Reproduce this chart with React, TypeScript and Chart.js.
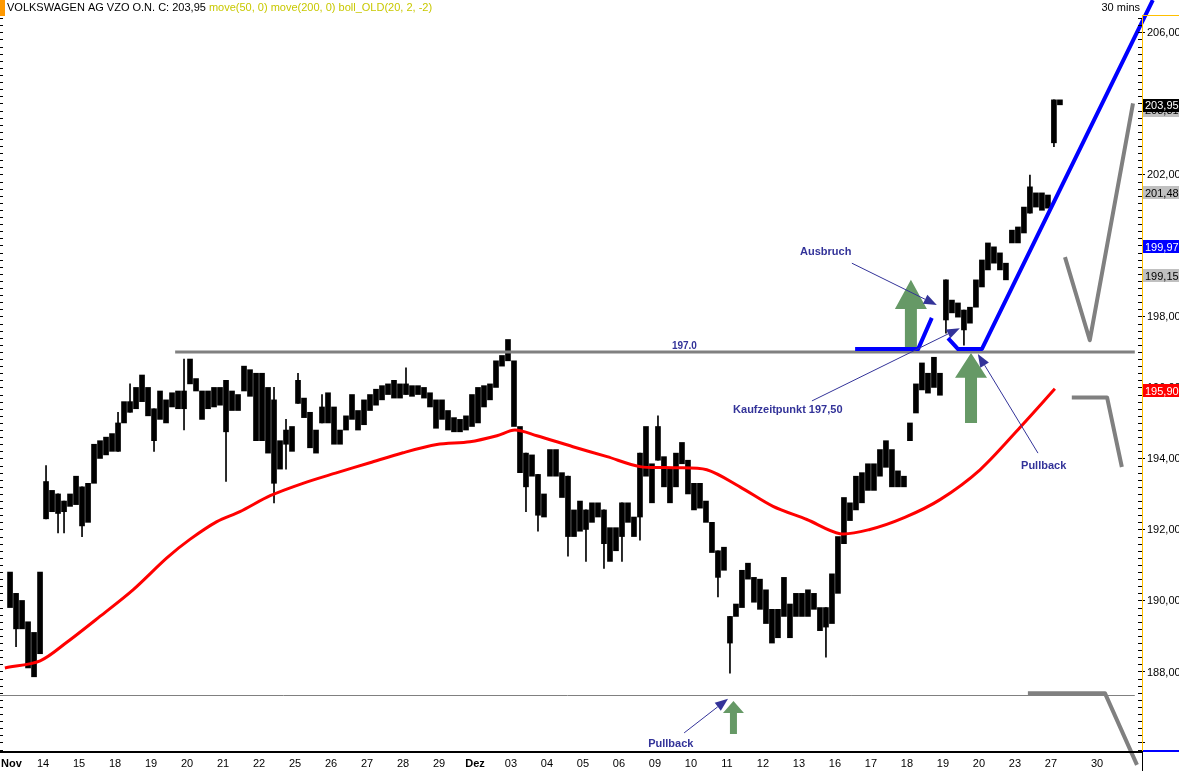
import React, { useEffect, useRef } from "react";
import { Chart, registerables } from "chart.js";

Chart.register(...registerables);

// ---------- x axis (trading days) ----------
const dayLabels = ["Nov", "14", "15", "18", "19", "20", "21", "22", "25", "26", "27", "28", "29", "Dez", "03", "04", "05", "06", "09", "10", "11", "12", "13", "16", "17", "18", "19", "20", "23", "27", "30"];
const dayTickPositions = [0, 1, 2, 3, 4, 5, 6, 7, 8, 9, 10, 11, 12, 13, 14, 15, 16, 17, 18, 19, 20, 21, 22, 23, 24, 25, 26, 27, 28, 29, 30.28];
const boldDayLabels = ["Nov", "Dez"];
const SLOTS_PER_DAY = 6;

// ---------- price ranges per slot (6 slots per day) ----------
const barLow: (number | null)[] = [
  189.8, 189.2, 189.2, 188.1, 187.85, 188.5,
  192.3, 192.5, 192.45, 192.5, 192.65, 192.7,
  192.1, 192.2, 193.3, 194.0, 194.1, 194.2,
  194.2, 195.0, 195.3, 195.4, 195.6, 195.2,
  194.5, 195.1, 195.0, 195.45, 195.4, 195.4,
  196.1, 195.9, 195.1, 195.4, 195.45, 195.5,
  194.75, 195.35, 195.35, 195.9, 195.75, 194.5,
  194.5, 194.15, 193.3, 193.7, 194.4, 194.2,
  195.55, 195.15, 194.3, 194.15, 195.0, 195.0,
  194.4, 194.4, 194.8, 195.1, 194.8, 194.95,
  195.35, 195.5, 195.65, 195.8, 195.7, 195.7,
  195.8, 195.75, 195.8, 195.7, 195.45, 194.85,
  195.1, 194.8, 194.75, 194.75, 194.8, 194.9,
  195.0, 195.45, 195.65, 196.0, 196.6, 196.75,
  194.9, 193.6, 193.2, 193.5, 192.4, 192.35,
  193.5, 193.5, 192.9, 191.8, 191.8, 191.95,
  192.0, 192.2, 192.35, 191.6, 191.1, 191.4,
  191.8, 192.2, 191.8, 192.35, 193.5, 192.75,
  193.95, 193.2, 192.75, 193.2, 193.85, 193.0,
  192.55, 192.6, 192.2, 191.35, 190.65, 190.85,
  188.8, 189.55, 189.8, 190.6, 189.95, 189.75,
  189.35, 188.8, 188.95, 189.55, 188.95, 189.55,
  189.55, 189.55, 189.75, 189.15, 189.25, 189.35,
  190.2, 191.6, 192.25, 192.55, 192.75, 193.1,
  193.1, 193.5, 193.75, 193.2, 193.2, 193.2,
  194.5, 195.28, 195.93, 195.84, 196.0, 195.78,
  197.9, 198.1, 197.98, 197.62, 197.81, 198.26,
  198.83, 199.31, 199.5, 199.31, 199.03, 200.07,
  200.07, 200.35, 200.91, 201.08, 200.99, 201.05,
  202.89, 203.96, null, null, null, null,
];
const barHigh: (number | null)[] = [
  190.8, 190.2, 190.0, 189.4, 189.1, 190.8,
  193.35, 193.1, 193.0, 192.8, 193.0, 193.5,
  193.2, 193.3, 194.4, 194.5, 194.6, 194.7,
  195.0, 195.6, 195.6, 196.0, 196.35, 196.0,
  195.4, 195.9, 195.65, 195.85, 195.9, 195.9,
  196.8, 196.25, 195.9, 195.9, 196.0, 196.0,
  196.2, 195.9, 195.8, 196.6, 196.5, 196.4,
  196.4, 196.0, 195.65, 194.5, 194.8, 194.9,
  196.2, 195.7, 195.3, 194.8, 195.45, 195.85,
  195.45, 194.8, 195.2, 195.8, 195.35, 195.65,
  195.8, 195.95, 196.05, 196.1, 196.2, 196.1,
  196.1, 196.05, 196.05, 196.0, 195.85, 195.65,
  195.65, 195.35, 195.15, 195.1, 195.2, 195.8,
  196.0, 196.05, 196.1, 196.75, 196.9, 197.35,
  196.75, 194.9, 194.15, 194.1, 193.55, 193.0,
  194.25, 194.25, 193.6, 193.5, 192.55, 192.8,
  192.55, 192.75, 192.75, 192.55, 192.05, 192.05,
  192.75, 192.75, 192.35, 194.15, 194.9, 193.85,
  194.9, 194.05, 193.75, 194.15, 194.45, 193.95,
  193.3, 193.3, 192.8, 192.2, 191.4, 191.5,
  189.55, 189.9, 190.85, 191.05, 190.65, 190.6,
  190.3, 189.75, 189.75, 190.65, 189.9, 190.2,
  190.2, 190.3, 190.2, 189.8, 189.8, 190.75,
  191.8, 192.9, 192.75, 193.5, 193.6, 193.85,
  193.85, 194.25, 194.5, 194.25, 193.65, 193.5,
  195.0, 196.1, 196.69, 196.4, 196.85, 196.4,
  199.03, 198.46, 198.38, 198.18, 198.26, 199.03,
  199.59, 200.07, 199.96, 199.79, 199.5, 200.43,
  200.52, 201.08, 201.65, 201.48, 201.48, 201.42,
  204.1, 204.1, null, null, null, null,
];
// wicks: slot index, low, high
const wickSlot = [1, 6, 8, 9, 12, 18, 20, 24, 29, 36, 44, 46, 48, 52, 66, 86, 88, 93, 96, 99, 102, 105, 108, 118, 120, 136, 156, 159, 170, 174];
const wickLow = [188.7, 192.3, 191.9, 191.9, 191.8, 194.2, 195.3, 194.2, 194.8, 193.35, 192.75, 193.7, 195.55, 195.0, 195.8, 192.5, 191.95, 191.25, 191.1, 190.9, 191.1, 191.7, 193.95, 190.1, 187.95, 188.4, 197.53, 197.19, 200.91, 202.78];
const wickHigh = [190.2, 193.8, 193.0, 192.8, 193.2, 195.3, 196.1, 195.4, 196.8, 196.2, 196.0, 195.1, 196.4, 195.8, 196.55, 194.15, 193.55, 193.5, 192.55, 192.55, 192.75, 194.15, 195.2, 191.4, 189.55, 189.8, 199.03, 198.18, 201.98, 204.1];

// ---------- moving average (200) ----------
const maDay = [-0.06, 0.92, 1.67, 2.58, 3.5, 4.44, 5.08, 5.83, 6.47, 7.31, 8.22, 9.17, 10.08, 11.0, 11.94, 12.86, 13.61, 14.11, 14.72, 15.72, 16.67, 17.58, 18.5, 19.44, 20.36, 21.28, 22.22, 23.14, 23.97, 24.94, 25.92, 27.03, 28.14, 29.11];
const maValue = [188.1, 188.3, 188.83, 189.55, 190.3, 191.2, 191.72, 192.22, 192.5, 192.95, 193.3, 193.6, 193.88, 194.16, 194.39, 194.47, 194.64, 194.8, 194.64, 194.33, 194.05, 193.77, 193.74, 193.68, 193.2, 192.65, 192.28, 191.88, 192.0, 192.34, 192.84, 193.68, 194.87, 195.96];

// ---------- y axis ----------
const yMin = 185.76;
const yMax = 206.49;
const yLabelValues = [188, 190, 192, 194, 196, 198, 200, 202, 204, 206];
const tagValues = [203.81, 203.95, 201.48, 199.97, 199.15, 195.9];
const tagBg = ["#c0c0c0", "#000000", "#c0c0c0", "#0000ff", "#c0c0c0", "#ff0000"];
const tagFg = ["#000000", "#ffffff", "#000000", "#ffffff", "#000000", "#ffffff"];

// ---------- drawn annotations (data coordinates: day, price) ----------
const resistancePrice = 197.0;
const resistanceDays = [4.67, 31.33];
const supportPrice = 187.34;
const supportDays = [-0.2, 31.33];
const blue1Days = [23.56, 25.31, 25.69];
const blue1Prices = [197.08, 197.08, 197.96];
const blue2Days = [26.14, 26.42, 27.08, 31.83];
const blue2Prices = [197.39, 197.08, 197.08, 206.91];
const grayPathDays = [[29.39, 30.08, 31.28], [29.58, 30.56, 30.97], [28.36, 30.5, 31.39]];
const grayPathPrices = [[199.67, 197.33, 204.0], [195.72, 195.72, 193.76], [187.39, 187.39, 185.37]];
const arrowDay = [25.11, 26.78, 20.18];
const arrowTip = [199.03, 196.97, 187.17];
const arrowHeadBase = [198.21, 196.27, 186.83];
const arrowTail = [197.08, 195.0, 186.24];
const noteText = ["Ausbruch", "Kaufzeitpunkt 197,50", "Pullback", "Pullback"];
const noteTextDay = [22.03, 20.17, 28.17, 17.81];
const noteTextPrice = [199.82, 195.37, 193.79, 185.95];
const noteFromDay = [23.47, 22.36, 28.64, 18.81];
const noteFromPrice = [199.5, 195.62, 194.15, 186.27];
const noteToDay = [25.83, 26.47, 26.97, 20.03];
const noteToPrice = [198.32, 197.67, 196.94, 187.23];
const levelText = "197.0";
const levelTextDay = 18.47;

const titleMain = "VOLKSWAGEN AG VZO O.N. C: 203,95";
const titleStudies = "move(50, 0) move(200, 0) boll_OLD(20, 2, -2)";
const periodText = "30 mins";

const FONT = '"Liberation Sans", Arial, sans-serif';

const fmt = (v: number) => v.toFixed(2).replace(".", ",");

const overlayPlugin = {
  id: "overlay",
  afterDatasetsDraw(chart: any) {
    const ctx: CanvasRenderingContext2D = chart.ctx;
    const xs = chart.scales.x;
    const ys = chart.scales.y;
    const X = (d: number) => xs.getPixelForValue(d);
    const Y = (p: number) => ys.getPixelForValue(p);
    const ca = chart.chartArea;
    ctx.save();

    // support thin line
    ctx.strokeStyle = "#808080";
    ctx.lineWidth = 1;
    ctx.beginPath();
    ctx.moveTo(Math.max(0, X(supportDays[0])), Math.round(Y(supportPrice)) + 0.5);
    ctx.lineTo(X(supportDays[1]), Math.round(Y(supportPrice)) + 0.5);
    ctx.stroke();

    // resistance line
    ctx.lineWidth = 3;
    ctx.beginPath();
    ctx.moveTo(X(resistanceDays[0]), Y(resistancePrice));
    ctx.lineTo(X(resistanceDays[1]), Y(resistancePrice));
    ctx.stroke();

    // gray projection paths
    ctx.lineWidth = 4;
    ctx.lineJoin = "round";
    grayPathDays.forEach((ds, i) => {
      ctx.beginPath();
      ds.forEach((d, j) => {
        const px = X(d), py = Y(grayPathPrices[i][j]);
        if (j === 0) ctx.moveTo(px, py); else ctx.lineTo(px, py);
      });
      ctx.stroke();
    });

    // green arrows
    ctx.fillStyle = "#669966";
    arrowDay.forEach((d, i) => {
      const cx = X(d);
      const big = i < 2;
      const hw = big ? 16 : 10.5;
      const sw = big ? 6 : 3.5;
      const tip = Y(arrowTip[i]), base = Y(arrowHeadBase[i]), tail = Y(arrowTail[i]);
      ctx.beginPath();
      ctx.moveTo(cx, tip);
      ctx.lineTo(cx + hw, base);
      ctx.lineTo(cx + sw, base);
      ctx.lineTo(cx + sw, tail);
      ctx.lineTo(cx - sw, tail);
      ctx.lineTo(cx - sw, base);
      ctx.lineTo(cx - hw, base);
      ctx.closePath();
      ctx.fill();
    });

    // blue lines
    ctx.strokeStyle = "#0000ff";
    ctx.lineWidth = 4;
    const drawPath = (ds: number[], ps: number[]) => {
      ctx.beginPath();
      ds.forEach((d, j) => {
        if (j === 0) ctx.moveTo(X(d), Y(ps[j])); else ctx.lineTo(X(d), Y(ps[j]));
      });
      ctx.stroke();
    };
    drawPath(blue1Days, blue1Prices);
    drawPath(blue2Days, blue2Prices);

    // navy notes with arrows
    ctx.strokeStyle = "#333399";
    ctx.fillStyle = "#333399";
    ctx.lineWidth = 1;
    noteText.forEach((t, i) => {
      const x1 = X(noteFromDay[i]), y1 = Y(noteFromPrice[i]);
      const x2 = X(noteToDay[i]), y2 = Y(noteToPrice[i]);
      const ang = Math.atan2(y2 - y1, x2 - x1);
      const L = 13, W = 5;
      const bx = x2 - L * Math.cos(ang), by = y2 - L * Math.sin(ang);
      ctx.beginPath();
      ctx.moveTo(x1, y1);
      ctx.lineTo(bx, by);
      ctx.stroke();
      ctx.beginPath();
      ctx.moveTo(x2, y2);
      ctx.lineTo(bx + W * Math.sin(ang), by - W * Math.cos(ang));
      ctx.lineTo(bx - W * Math.sin(ang), by + W * Math.cos(ang));
      ctx.closePath();
      ctx.fill();
      ctx.font = "bold 11px " + FONT;
      ctx.textAlign = "left";
      ctx.textBaseline = "middle";
      ctx.fillText(t, X(noteTextDay[i]), Y(noteTextPrice[i]));
    });
    ctx.font = "bold 10px " + FONT;
    ctx.textBaseline = "bottom";
    ctx.fillText(levelText, X(levelTextDay), Y(resistancePrice) - 1);

    // ---------- axes ----------
    const axisX = ca.right;
    // right axis ticks
    ctx.fillStyle = "#000";
    const start = Math.ceil(yMin / 0.2);
    const end = Math.floor(yMax / 0.2);
    for (let k = start; k <= end; k++) {
      const v = k * 0.2;
      const py = Math.round(Y(v));
      const major = k % 10 === 0;
      ctx.fillRect(axisX - 4, py, 4, 1);
      ctx.fillRect(0, py, 3, 1);
      if (major) ctx.fillRect(axisX, py, 3, 1);
    }
    ctx.font = "11px " + FONT;
    ctx.textAlign = "left";
    ctx.textBaseline = "middle";
    yLabelValues.forEach((v) => {
      ctx.fillText(fmt(v), axisX + 5, Y(v) + 1);
    });
    // orange axis
    ctx.fillStyle = "#ffc000";
    ctx.fillRect(axisX, ca.top, 1, ca.bottom - ca.top);
    ctx.fillRect(axisX, ca.top, chart.width - axisX, 1);

    // price tags
    tagValues.forEach((v, i) => {
      const py = Y(v);
      ctx.fillStyle = tagBg[i];
      ctx.fillRect(axisX + 1, Math.round(py - 6.5), chart.width - axisX - 1, 13);
      ctx.fillStyle = tagFg[i];
      ctx.fillText(fmt(v), axisX + 3, py + 1);
    });

    // x axis
    ctx.fillStyle = "#000";
    ctx.fillRect(0, ca.bottom, axisX, 2);
    ctx.fillRect(axisX, ca.bottom, 1, chart.height - ca.bottom);
    ctx.fillStyle = "#0000ff";
    ctx.fillRect(axisX + 1, ca.bottom - 1, chart.width - axisX, 2);
    ctx.fillStyle = "#000";
    ctx.textBaseline = "middle";
    dayLabels.forEach((lab, i) => {
      const bold = boldDayLabels.includes(lab);
      ctx.font = (bold ? "bold " : "") + "11px " + FONT;
      const w = ctx.measureText(lab).width;
      let lx = X(dayTickPositions[i]) - w / 2;
      if (lx < 1) lx = 1;
      ctx.textAlign = "left";
      ctx.fillText(lab, lx, ca.bottom + 13);
    });

    // header
    ctx.fillStyle = "#ff9900";
    ctx.fillRect(0, 0, 5, 16);
    ctx.font = "11px " + FONT;
    ctx.textAlign = "left";
    ctx.textBaseline = "middle";
    ctx.fillStyle = "#000";
    ctx.fillText(titleMain, 7, 8);
    const tw = ctx.measureText(titleMain + " ").width;
    ctx.fillStyle = "#c8c800";
    ctx.fillText(titleStudies, 7 + tw, 8);
    ctx.fillStyle = "#000";
    ctx.textAlign = "right";
    ctx.fillText(periodText, axisX - 2, 8);

    ctx.restore();
  },
};

export default function App() {
  const canvasRef = useRef<HTMLCanvasElement | null>(null);

  useEffect(() => {
    document.body.style.margin = "0";
    const canvas = canvasRef.current;
    if (!canvas) return;

    const bodies: any[] = [];
    barLow.forEach((lo, i) => {
      const hi = barHigh[i];
      if (lo === null || hi === null) return;
      const day = Math.floor(i / SLOTS_PER_DAY);
      const k = i % SLOTS_PER_DAY;
      bodies.push({ x: day + (k + 0.5) / SLOTS_PER_DAY, y: [lo, hi] });
    });
    const wicks = wickSlot.map((s, i) => {
      const day = Math.floor(s / SLOTS_PER_DAY);
      const k = s % SLOTS_PER_DAY;
      return { x: day + (k + 0.5) / SLOTS_PER_DAY, y: [wickLow[i], wickHigh[i]] };
    });
    const ma = maDay.map((d, i) => ({ x: d, y: maValue[i] }));

    const chart = new Chart(canvas, {
      type: "bar",
      data: {
        datasets: [
          {
            type: "line",
            label: "move(200)",
            data: ma,
            borderColor: "#ff0000",
            borderWidth: 3,
            pointRadius: 0,
            tension: 0.3,
            order: 0,
          } as any,
          {
            type: "bar",
            label: "bodies",
            data: bodies,
            backgroundColor: "#000000",
            borderWidth: 0,
            barThickness: 5,
            grouped: false,
            order: 1,
          } as any,
          {
            type: "bar",
            label: "wicks",
            data: wicks,
            backgroundColor: "#000000",
            borderWidth: 0,
            barThickness: 1,
            grouped: false,
            order: 2,
          } as any,
        ],
      },
      options: {
        animation: false,
        responsive: false,
        devicePixelRatio: 1,
        layout: { padding: { left: 2, top: 15, right: 37, bottom: 20 } },
        plugins: { legend: { display: false }, tooltip: { enabled: false }, title: { display: false } },
        scales: {
          x: { type: "linear", min: -0.14, max: 31.53, display: false, offset: false, grid: { display: false } },
          y: { type: "linear", min: yMin, max: yMax, display: false, grid: { display: false } },
        },
      },
      plugins: [overlayPlugin],
    });
    return () => chart.destroy();
  }, []);

  return (
    <div style={{ width: 1179, height: 771, background: "#fff" }}>
      <canvas ref={canvasRef} width={1179} height={771} style={{ display: "block" }} />
    </div>
  );
}
